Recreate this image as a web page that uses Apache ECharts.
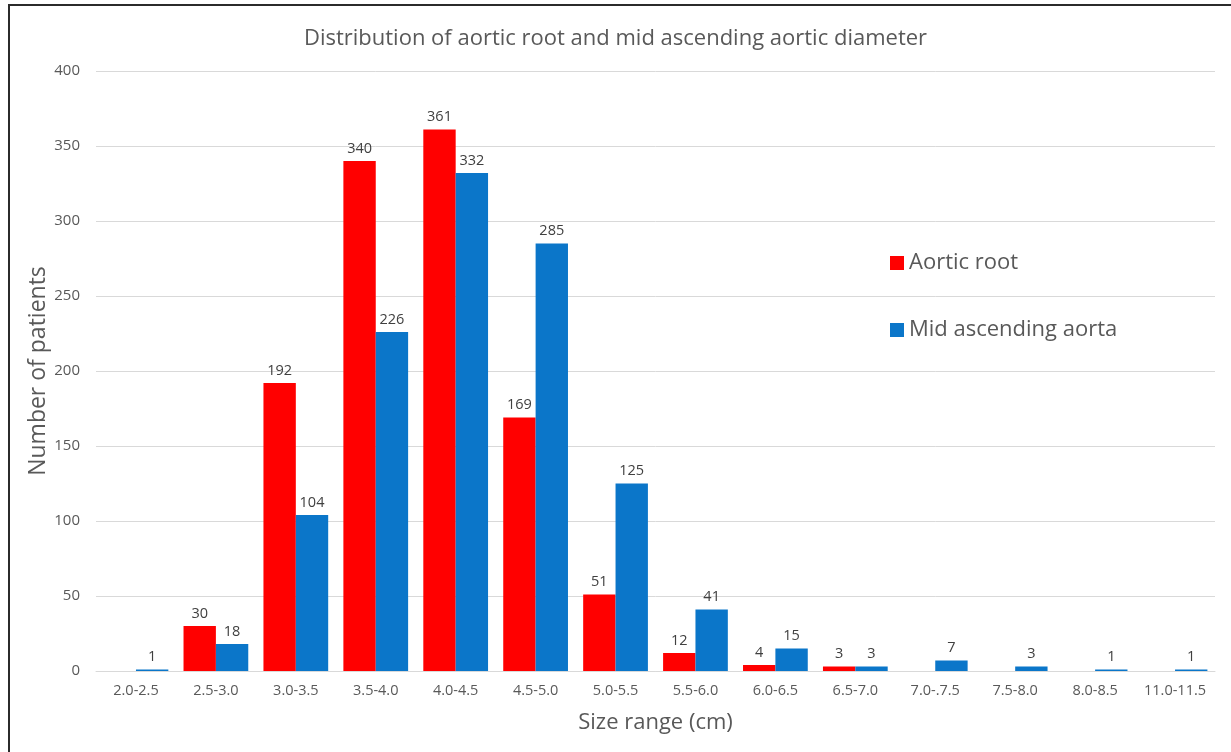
<!DOCTYPE html>
<html>
<head>
<meta charset="utf-8">
<script src="https://cdn.jsdelivr.net/npm/echarts@6/dist/echarts.min.js"></script>
<style>
  html, body { margin: 0; padding: 0; background: #fff; }
  #chart { width: 1231px; height: 752px; }
</style>
</head>
<body>
<div id="chart"></div>
<script>
// Size ranges (cm) along the x axis
const sizeRanges = ['2.0-2.5', '2.5-3.0', '3.0-3.5', '3.5-4.0', '4.0-4.5', '4.5-5.0', '5.0-5.5',
  '5.5-6.0', '6.0-6.5', '6.5-7.0', '7.0-.7.5', '7.5-8.0', '8.0-8.5', '11.0-11.5'];

// Patient counts per range (null = no bar)
const aorticRoot = [null, 30, 192, 340, 361, 169, 51, 12, 4, 3, null, null, null, null];
const midAscendingAorta = [1, 18, 104, 226, 332, 285, 125, 41, 15, 3, 7, 3, 1, 1];

// Y axis scale
const yMin = 0;
const yMax = 400;
const yStep = 50;

const FONT = '"Open Sans", "Noto Sans", sans-serif';
const TEXT = '#595959';

const chart = echarts.init(document.getElementById('chart'), null, { renderer: 'canvas' });

const labelStyle = {
  show: true,
  position: 'top',
  distance: 5,
  color: '#404040',
  fontSize: 14.5,
  fontFamily: FONT
};

chart.setOption({
  backgroundColor: '#ffffff',
  animation: false,
  title: {
    text: 'Distribution of aortic root and mid ascending aortic diameter',
    left: 'center',
    top: 23,
    textStyle: { color: TEXT, fontSize: 22, fontWeight: 'normal', fontFamily: FONT }
  },
  legend: {
    orient: 'vertical',
    left: 885,
    top: 247,
    itemWidth: 14,
    itemHeight: 14,
    itemGap: 45,
    icon: 'rect',
    textStyle: { color: TEXT, fontSize: 22, fontFamily: FONT, padding: [0, 0, 0, 0] },
    data: ['Aortic root', 'Mid ascending aorta']
  },
  grid: { left: 96, right: 16, top: 71, bottom: 81 },
  xAxis: {
    type: 'category',
    data: sizeRanges,
    name: 'Size range (cm)',
    nameLocation: 'middle',
    nameGap: 41,
    nameMoveOverlap: false,
    nameTextStyle: { color: TEXT, fontSize: 22, fontFamily: FONT },
    axisLine: { lineStyle: { color: '#d9d9d9', width: 1 } },
    axisTick: { show: false },
    axisLabel: { color: TEXT, fontSize: 14.5, fontFamily: FONT, margin: 12, interval: 0 }
  },
  yAxis: {
    type: 'value',
    min: yMin,
    max: yMax,
    interval: yStep,
    name: 'Number of patients',
    nameLocation: 'middle',
    nameGap: 46,
    nameMoveOverlap: false,
    nameTextStyle: { color: TEXT, fontSize: 23, fontFamily: FONT },
    axisLine: { show: false },
    axisTick: { show: false },
    axisLabel: { color: TEXT, fontSize: 15, fontFamily: FONT, margin: 16 },
    splitLine: { lineStyle: { color: '#d9d9d9', width: 1 } }
  },
  series: [
    {
      name: 'Aortic root',
      type: 'bar',
      data: aorticRoot,
      itemStyle: { color: '#ff0000' },
      barGap: '0%',
      barCategoryGap: '19%',
      label: labelStyle
    },
    {
      name: 'Mid ascending aorta',
      type: 'bar',
      data: midAscendingAorta,
      itemStyle: { color: '#0b76c9' },
      label: labelStyle
    }
  ],
  graphic: [
    {
      type: 'polyline',
      shape: { points: [[9, 760], [9, 5], [1240, 5]] },
      style: { stroke: '#2b2b2b', lineWidth: 2, fill: null },
      silent: true
    }
  ]
});
</script>
</body>
</html>
